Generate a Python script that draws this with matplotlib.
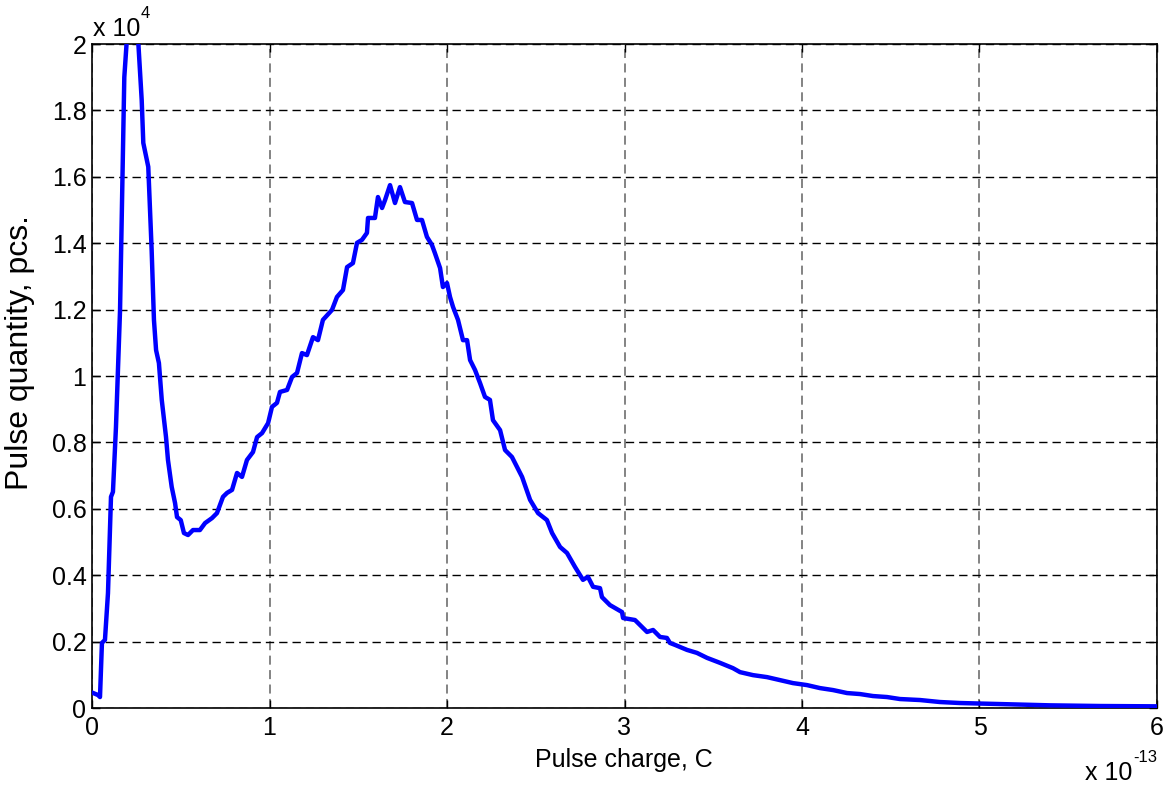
import matplotlib.pyplot as plt
from matplotlib.ticker import FuncFormatter

plt.rcParams['font.family'] = ['Liberation Sans', 'DejaVu Sans']

# pulse charge, in units of 1e-13 C
charge_e13 = [
    0.007, 0.034, 0.045, 0.056, 0.073, 0.090, 0.107, 0.118, 0.135, 0.158,
    0.173, 0.182, 0.195, 0.225, 0.261, 0.280, 0.289, 0.317, 0.336, 0.349,
    0.361, 0.377, 0.393, 0.417, 0.428, 0.449, 0.468, 0.479, 0.500, 0.518,
    0.541, 0.569, 0.608, 0.637, 0.676, 0.704, 0.738, 0.761, 0.789, 0.817,
    0.845, 0.873, 0.907, 0.930, 0.958, 0.992, 1.014, 1.042, 1.059, 1.099,
    1.127, 1.155, 1.183, 1.211, 1.245, 1.273, 1.301, 1.352, 1.380, 1.414,
    1.437, 1.470, 1.493, 1.521, 1.549, 1.555, 1.594, 1.611, 1.634, 1.651,
    1.679, 1.707, 1.735, 1.763, 1.803, 1.831, 1.859, 1.887, 1.915, 1.932,
    1.961, 1.977, 2.000, 2.017, 2.034, 2.062, 2.090, 2.113, 2.130, 2.158,
    2.186, 2.214, 2.242, 2.259, 2.299, 2.327, 2.366, 2.423, 2.468, 2.513,
    2.563, 2.592, 2.637, 2.676, 2.721, 2.766, 2.794, 2.823, 2.862, 2.873,
    2.918, 2.986, 2.992, 3.059, 3.127, 3.161, 3.200, 3.239, 3.256, 3.285,
    3.352, 3.408, 3.465, 3.538, 3.611, 3.651, 3.724, 3.803, 3.876, 3.949,
    4.028, 4.101, 4.175, 4.254, 4.327, 4.400, 4.479, 4.552, 4.665, 4.777,
    4.890, 5.115, 5.397, 5.679, 6.0,
]
# pulse quantity, in units of 1e4 pcs
quantity_e4 = [
    0.045, 0.039, 0.033, 0.196, 0.205, 0.346, 0.636, 0.651, 0.846, 1.199,
    1.630, 1.900, 2.003, 2.250, 2.003, 1.831, 1.702, 1.630, 1.380, 1.169,
    1.078, 1.039, 0.928, 0.816, 0.747, 0.666, 0.617, 0.575, 0.566, 0.527,
    0.521, 0.536, 0.536, 0.557, 0.572, 0.587, 0.636, 0.648, 0.657, 0.708,
    0.696, 0.747, 0.771, 0.816, 0.828, 0.858, 0.907, 0.919, 0.952, 0.958,
    0.997, 1.009, 1.069, 1.063, 1.117, 1.108, 1.169, 1.199, 1.238, 1.259,
    1.328, 1.340, 1.401, 1.410, 1.431, 1.476, 1.476, 1.539, 1.506, 1.530,
    1.575, 1.521, 1.569, 1.524, 1.521, 1.470, 1.470, 1.419, 1.395, 1.370,
    1.325, 1.268, 1.280, 1.238, 1.208, 1.169, 1.108, 1.108, 1.048, 1.018,
    0.979, 0.937, 0.928, 0.867, 0.837, 0.777, 0.756, 0.696, 0.627, 0.587,
    0.566, 0.527, 0.485, 0.467, 0.425, 0.386, 0.395, 0.365, 0.361, 0.334,
    0.310, 0.289, 0.271, 0.265, 0.229, 0.235, 0.214, 0.211, 0.196, 0.190,
    0.175, 0.166, 0.151, 0.136, 0.120, 0.108, 0.099, 0.093, 0.084, 0.075,
    0.069, 0.060, 0.054, 0.045, 0.042, 0.036, 0.033, 0.027, 0.024, 0.018,
    0.015, 0.012, 0.008, 0.006, 0.005,
]

x_ticks = [0, 1, 2, 3, 4, 5, 6]
y_ticks = [0, 0.2, 0.4, 0.6, 0.8, 1, 1.2, 1.4, 1.6, 1.8, 2]

x = [v * 1e-13 for v in charge_e13]
y = [v * 1e4 for v in quantity_e4]

W, H = 1170, 785
fig = plt.figure(figsize=(W / 100, H / 100), dpi=100)
# axes box: left 92 px, right 1157 px, top 44 px, bottom 708 px
ax = fig.add_axes([92 / W, 1 - 708 / H, 1065 / W, 664 / H])

ax.plot(x, y, color='#0000ff', linewidth=3.2, zorder=3)

ax.set_xlim(0, 6e-13)
ax.set_ylim(0, 2e4)
ax.set_xticks([t * 1e-13 for t in x_ticks])
ax.set_yticks([t * 1e4 for t in y_ticks])
ax.xaxis.set_major_formatter(FuncFormatter(lambda v, p: f"{v / 1e-13:g}"))
ax.yaxis.set_major_formatter(FuncFormatter(lambda v, p: f"{v / 1e4:g}"))

# MATLAB-like grid: black dashes horizontal, grey dashes vertical
ax.yaxis.grid(True, color='black', linestyle=(0, (6, 3.6)), linewidth=1.0)
ax.xaxis.grid(True, color='#7a7a7a', linestyle=(0, (5, 3)), linewidth=1.3)
ax.set_axisbelow(True)

ax.tick_params(direction='in', length=6, width=1, labelsize=18,
               top=True, right=True)
ax.tick_params(axis='x', pad=6)
ax.tick_params(axis='y', pad=4)
for s in ax.spines.values():
    s.set_linewidth(1.2)

fig.text(624 / W, 1 - 767 / H, 'Pulse charge, C', fontsize=18,
         ha='center', va='baseline')
fig.text(20 / W, 1 - 353 / H, 'Pulse quantity, pcs.', fontsize=23,
         ha='center', va='center', rotation=90)

# axis multipliers, drawn MATLAB-style
fig.text(93 / W, 1 - 36 / H, 'x 10', fontsize=18, ha='left', va='baseline')
fig.text(141 / W, 1 - 18 / H, '4', fontsize=12, ha='left', va='baseline')
fig.text(1085 / W, 1 - 780 / H, 'x 10', fontsize=18, ha='left', va='baseline')
fig.text(1157 / W, 1 - 762 / H, '-13', fontsize=12, ha='right', va='baseline')

fig.savefig('out.png', dpi=100)
